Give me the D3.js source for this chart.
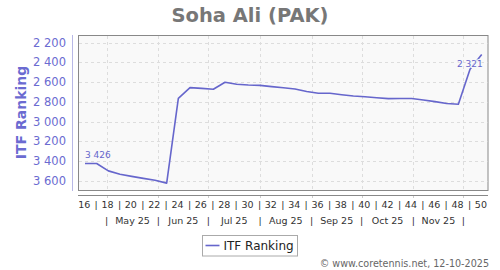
<!DOCTYPE html>
<html>
<head>
<meta charset="utf-8">
<script src="https://cdn.jsdelivr.net/npm/d3@7/dist/d3.min.js"></script>
<style>
  body { margin: 0; background: #fff; }
  text { font-family: "DejaVu Sans", Verdana, sans-serif; }
</style>
</head>
<body>
<svg id="chart" width="500" height="270"></svg>
<script>
// ISO week numbers (2025) and the ITF ranking for each week
var weeks = [16, 17, 18, 19, 20, 21, 22, 23, 24, 25, 26, 27, 28, 29, 30, 31, 32, 33,
  34, 35, 36, 37, 38, 39, 40, 41, 42, 43, 44, 45, 46, 47, 48, 49, 50];
var ranks = [3426, 3426, 3501, 3535, 3557, 3577, 3596, 3625, 2765, 2656, 2664, 2673, 2602,
  2622, 2629, 2633, 2646, 2657, 2670, 2695, 2713, 2713, 2728, 2741, 2749, 2759, 2768,
  2766, 2767, 2781, 2798, 2817, 2825, 2470, 2321];
var yTicks = [2200, 2400, 2600, 2800, 3000, 3200, 3400, 3600];
var weekLabels = [16, 18, 20, 22, 24, 26, 28, 30, 32, 34, 36, 38, 40, 42, 44, 46, 48, 50];
var monthStarts = ["2025-05-01", "2025-06-01", "2025-07-01", "2025-08-01", "2025-09-01",
  "2025-10-01", "2025-11-01", "2025-12-01"];
var monthLabels = ["May 25", "Jun 25", "Jul 25", "Aug 25", "Sep 25", "Oct 25", "Nov 25"];
var title = "Soha Ali (PAK)";
var seriesName = "ITF Ranking";
var credit = "\u00a9 www.coretennis.net, 12-10-2025";

var lineColor = "#6666cc";
var parse = d3.timeParse("%Y-%m-%d");
var fmt = d3.formatLocale({decimal: ".", thousands: " ", grouping: [3], currency: ["", ""]}).format(",d");

// friday of the ISO week
function weekDate(w) {
  return d3.timeDay.offset(parse("2025-01-03"), (w - 1) * 7);
}

var data = weeks.map(function(w, i) { return {date: weekDate(w), week: w, rank: ranks[i]}; });

var plot = {left: 78, right: 487.5, top: 35, bottom: 190};

var x = d3.scaleTime()
  .domain([weekDate(16), weekDate(50)])
  .range([85, 481.7]);

var y = d3.scaleLinear()
  .domain([2122, 3695])
  .range([plot.top, plot.bottom]);

var svg = d3.select("#chart");

svg.append("text")
  .attr("x", 250)
  .attr("y", 22)
  .attr("text-anchor", "middle")
  .style("font-size", "19.5px")
  .style("font-weight", "bold")
  .style("fill", "#777")
  .text(title);

svg.append("rect")
  .attr("x", plot.left + 0.5)
  .attr("y", plot.top + 0.5)
  .attr("width", plot.right - plot.left)
  .attr("height", plot.bottom - plot.top)
  .style("fill", "#f9f9f9")
  .style("stroke", "#888");

// horizontal grid
svg.append("g")
  .selectAll("line")
  .data(yTicks)
  .join("line")
  .attr("x1", plot.left + 1)
  .attr("x2", plot.right)
  .attr("y1", function(d) { return Math.round(y(d)) + 0.5; })
  .attr("y2", function(d) { return Math.round(y(d)) + 0.5; })
  .style("stroke", "#ddd")
  .style("stroke-dasharray", "3,3");

// vertical grid at month boundaries
svg.append("g")
  .selectAll("line")
  .data(monthStarts)
  .join("line")
  .attr("x1", function(d) { return Math.round(x(parse(d))) + 0.5; })
  .attr("x2", function(d) { return Math.round(x(parse(d))) + 0.5; })
  .attr("y1", plot.top + 1)
  .attr("y2", plot.bottom)
  .style("stroke", "#ddd")
  .style("stroke-dasharray", "3,3");

// y axis
svg.append("line")
  .attr("x1", 72.5).attr("x2", 72.5)
  .attr("y1", plot.top).attr("y2", plot.bottom + 1)
  .style("stroke", "#b8b8e6");

svg.append("g")
  .selectAll("text")
  .data(yTicks)
  .join("text")
  .attr("x", 66)
  .attr("y", function(d) { return y(d) + 4; })
  .attr("text-anchor", "end")
  .style("font-size", "11.5px")
  .style("fill", "#6b6bd1")
  .text(function(d) { return fmt(d); });

svg.append("text")
  .attr("text-anchor", "middle")
  .attr("transform", "translate(26," + ((plot.top + plot.bottom) / 2) + ") rotate(-90)")
  .style("font-size", "14px")
  .style("font-weight", "bold")
  .style("fill", "#6b6bd1")
  .text(seriesName);

// x axis
svg.append("line")
  .attr("x1", plot.left).attr("x2", plot.right + 0.5)
  .attr("y1", 195.5).attr("y2", 195.5)
  .style("stroke", "#888");

svg.append("g")
  .selectAll("line")
  .data(monthStarts)
  .join("line")
  .attr("x1", function(d) { return Math.round(x(parse(d))) + 0.5; })
  .attr("x2", function(d) { return Math.round(x(parse(d))) + 0.5; })
  .attr("y1", 196)
  .attr("y2", 198)
  .style("stroke", "#ccc");

svg.append("g")
  .selectAll("text")
  .data(weekLabels)
  .join("text")
  .attr("x", function(d) { return x(weekDate(d)) - 0.8; })
  .attr("y", 208)
  .attr("text-anchor", "middle")
  .style("font-size", "9.5px")
  .style("fill", "#333")
  .text(function(d) { return d; });

svg.append("g")
  .selectAll("text")
  .data(weekLabels.slice(0, -1))
  .join("text")
  .attr("x", function(d) { return x(weekDate(d + 1)) - 0.5; })
  .attr("y", 208)
  .attr("text-anchor", "middle")
  .style("font-size", "9.5px")
  .style("fill", "#333")
  .text("|");

svg.append("g")
  .selectAll("text")
  .data(monthStarts)
  .join("text")
  .attr("x", function(d) { return x(parse(d)); })
  .attr("y", 224)
  .attr("text-anchor", "middle")
  .style("font-size", "9.5px")
  .style("fill", "#333")
  .text("|");

svg.append("g")
  .selectAll("text")
  .data(monthLabels)
  .join("text")
  .attr("x", function(d, i) { return (x(parse(monthStarts[i])) + x(parse(monthStarts[i + 1]))) / 2; })
  .attr("y", 224)
  .attr("text-anchor", "middle")
  .style("font-size", "9.5px")
  .style("fill", "#333")
  .text(function(d) { return d; });

// series
var line = d3.line()
  .x(function(d) { return x(d.date); })
  .y(function(d) { return y(d.rank); });

svg.append("path")
  .datum(data)
  .attr("d", line)
  .style("fill", "none")
  .style("stroke", lineColor)
  .style("stroke-width", 1.6)
  .style("stroke-linejoin", "round");

var first = data[0];
var last = data[data.length - 1];

svg.append("text")
  .attr("x", x(first.date))
  .attr("y", y(first.rank) - 5)
  .style("font-size", "9px")
  .style("fill", lineColor)
  .text(fmt(first.rank));

svg.append("text")
  .attr("x", x(last.date) + 1)
  .attr("y", y(last.rank) + 12.5)
  .attr("text-anchor", "end")
  .style("font-size", "9px")
  .style("fill", lineColor)
  .style("paint-order", "stroke")
  .style("stroke", "#f9f9f9")
  .style("stroke-width", 2)
  .text(fmt(last.rank));

// legend
var legend = svg.append("g").attr("transform", "translate(202.5,235.5)");

legend.append("rect")
  .attr("width", 95)
  .attr("height", 20.5)
  .style("fill", "#fff")
  .style("stroke", "#aaa");

legend.append("line")
  .attr("x1", 3).attr("x2", 17)
  .attr("y1", 10).attr("y2", 10)
  .style("stroke", lineColor)
  .style("stroke-width", 1.6);

legend.append("text")
  .attr("x", 21)
  .attr("y", 14.5)
  .style("font-size", "12px")
  .style("fill", "#222")
  .text(seriesName);

svg.append("text")
  .attr("x", 489)
  .attr("y", 267)
  .attr("text-anchor", "end")
  .style("font-size", "9.6px")
  .style("fill", "#666")
  .text(credit);
</script>
</body>
</html>
